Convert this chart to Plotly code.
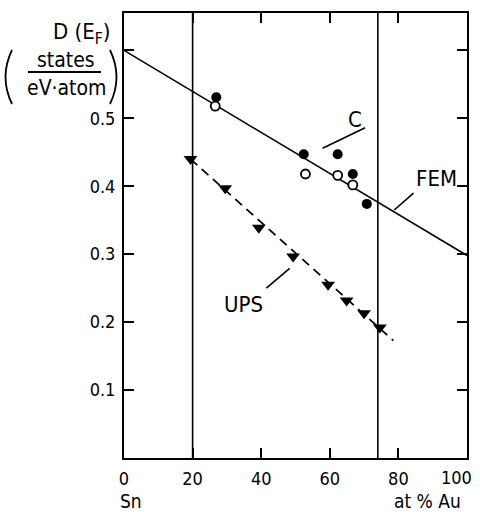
import plotly.graph_objects as go

# ---- data ----
filled_x = [26.9, 52.4, 62.3, 66.7, 70.8]
filled_y = [0.531, 0.447, 0.447, 0.418, 0.374]
open_x = [26.6, 52.9, 62.3, 66.7]
open_y = [0.518, 0.418, 0.416, 0.402]
ups_x = [19.4, 29.5, 39.3, 49.3, 59.5, 64.9, 70.0, 74.6]
ups_y = [0.440, 0.397, 0.339, 0.2965, 0.255, 0.232, 0.213, 0.192]
ups_fit_x = [19.4, 78.5]
ups_fit_y = [0.440, 0.173]
fem_x = [0, 100]
fem_y = [0.600, 0.298]
vlines_x = [20, 74]
x_ticks = [0, 20, 40, 60, 80, 100]
x_ticktext = ["0", "20", "40", "60", "80", ""]
x_last_label = "100"
y_ticks = [0.1, 0.2, 0.3, 0.4, 0.5, 0.6]
y_ticktext = ["0.1", "0.2", "0.3", "0.4", "0.5", ""]
labels = ["C", "FEM", "UPS"]
label_x = [67.3, 91.2, 34.7]
label_y = [0.498, 0.411, 0.226]
leader_x = [[70.3, 57.9], [84.4, 78.8], [41.5, 48.3]]
leader_y = [[0.486, 0.456], [0.390, 0.365], [0.250, 0.279]]

FONT = "DejaVu Sans Condensed, DejaVu Sans, sans-serif"
YMAX = 0.655

fig = go.Figure()
for vx in vlines_x:
    fig.add_trace(go.Scatter(x=[vx, vx], y=[0, YMAX], mode="lines",
                             line=dict(color="black", width=1.6), hoverinfo="skip"))
fig.add_trace(go.Scatter(x=fem_x, y=fem_y, mode="lines",
                         line=dict(color="black", width=1.6)))
fig.add_trace(go.Scatter(x=ups_fit_x, y=ups_fit_y, mode="lines",
                         line=dict(color="black", width=1.8, dash="9px,6px")))
for lx, ly in zip(leader_x, leader_y):
    fig.add_trace(go.Scatter(x=lx, y=ly, mode="lines",
                             line=dict(color="black", width=1.6)))
fig.add_trace(go.Scatter(x=filled_x, y=filled_y, mode="markers",
                         marker=dict(symbol="circle", size=10, color="black")))
fig.add_trace(go.Scatter(x=open_x, y=open_y, mode="markers",
                         marker=dict(symbol="circle", size=9, color="white",
                                     line=dict(color="black", width=1.8))))
fig.add_trace(go.Scatter(x=ups_x, y=ups_y, mode="markers",
                         marker=dict(symbol="triangle-down", size=12, color="black")))

for t, lx, ly in zip(labels, label_x, label_y):
    fig.add_annotation(x=lx, y=ly, text=t, showarrow=False,
                       font=dict(family=FONT, size=22, color="black"),
                       xanchor="center", yanchor="middle")

L, R, T, B = 124, 13, 13, 54
W, H = 480, 512
pw, ph = W - L - R, H - T - B


def px(xp):
    return (xp - L) / pw


def py(yp):
    return (H - B - yp) / ph


# last x tick label, nudged left so it stays inside the picture
fig.add_annotation(x=x_ticks[-1], y=py(477), xref="x", yref="paper",
                   text=x_last_label, showarrow=False, xshift=7,
                   font=dict(family=FONT, size=18, color="black"),
                   xanchor="right", yanchor="middle")

fig.add_annotation(x=px(81), y=py(33), xref="paper", yref="paper",
                   text="D (E<sub>F</sub>)", showarrow=False,
                   font=dict(family=FONT, size=22, color="black"),
                   xanchor="center", yanchor="middle")
fig.add_annotation(x=px(66), y=py(60), xref="paper", yref="paper",
                   text="states", showarrow=False,
                   font=dict(family=FONT, size=21, color="black"),
                   xanchor="center", yanchor="middle")
fig.add_annotation(x=px(67), y=py(88), xref="paper", yref="paper",
                   text="eV·atom", showarrow=False,
                   font=dict(family=FONT, size=21, color="black"),
                   xanchor="center", yanchor="middle")
fig.add_shape(type="line", xref="paper", yref="paper",
              x0=px(28), x1=px(101), y0=py(72), y1=py(72),
              line=dict(color="black", width=1.8))
fig.add_shape(type="path", xref="paper", yref="paper",
              path=f"M {px(12)},{py(50)} Q {px(-1)},{py(77)} {px(12)},{py(104)}",
              line=dict(color="black", width=1.8))
fig.add_shape(type="path", xref="paper", yref="paper",
              path=f"M {px(110)},{py(50)} Q {px(123)},{py(77)} {px(110)},{py(104)}",
              line=dict(color="black", width=1.8))
fig.add_annotation(x=px(131), y=py(501), xref="paper", yref="paper",
                   text="Sn", showarrow=False,
                   font=dict(family=FONT, size=19, color="black"),
                   xanchor="center", yanchor="middle")
fig.add_annotation(x=px(427), y=py(501), xref="paper", yref="paper",
                   text="at % Au", showarrow=False,
                   font=dict(family=FONT, size=19, color="black"),
                   xanchor="center", yanchor="middle")

fig.update_layout(
    width=W, height=H,
    margin=dict(l=L, r=R, t=T, b=B, autoexpand=False),
    paper_bgcolor="white", plot_bgcolor="white",
    showlegend=False,
    font=dict(family=FONT, size=18, color="black"),
)
fig.update_xaxes(range=[0, 100], tickvals=x_ticks, ticktext=x_ticktext,
                 ticks="inside", ticklen=10,
                 tickwidth=1.6, tickcolor="black", showgrid=False, zeroline=False,
                 showline=True, linecolor="black", linewidth=2, mirror="ticks",
                 ticklabelstandoff=3, ticklabeloverflow="allow", automargin=False)
fig.update_yaxes(range=[0, YMAX], tickvals=y_ticks, ticktext=y_ticktext,
                 ticks="inside", ticklen=10, tickwidth=1.6, tickcolor="black",
                 showgrid=False, zeroline=False, showline=True, linecolor="black",
                 linewidth=2, mirror="ticks", ticklabelstandoff=3,
                 ticklabeloverflow="allow", automargin=False)

fig.write_html("out.html")
